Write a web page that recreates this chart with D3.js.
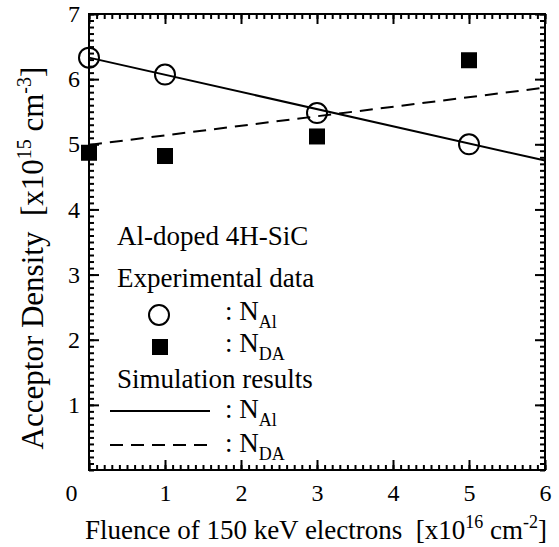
<!DOCTYPE html>
<html lang="en">
<head>
    <meta charset="UTF-8">
    <title>Acceptor Density</title>
    <style>
        body { margin: 0; background: #fff; }
    </style>
</head>
<body>
<div id="chart"></div>
<script src="https://cdn.jsdelivr.net/npm/d3@7"></script>
<script>
    // data
    const fluence = [0, 1, 3, 5];
    const nAlExp = [6.33, 6.07, 5.48, 5.00];
    const nDaExp = [4.87, 4.82, 5.12, 6.29];
    const simX = [0, 6];
    const nAlSim = [6.33, 4.75];
    const nDaSim = [4.99, 5.87];
    const xTicks = [0, 1, 2, 3, 4, 5, 6];
    const yTicks = [1, 2, 3, 4, 5, 6, 7];

    const FONT = "'Liberation Serif', 'Times New Roman', Times, serif";
    const W = 559, H = 547;
    const margin = {top: 14, right: 14, bottom: 77, left: 89};
    const width = W - margin.left - margin.right,
        height = H - margin.top - margin.bottom;

    let svg = d3.select("#chart")
        .append("svg")
        .attr("width", W)
        .attr("height", H)
        .attr("font-family", FONT);

    let g = svg.append("g")
        .attr("transform", `translate(${margin.left}, ${margin.top})`);

    var x = d3.scaleLinear().domain([0, 6]).range([0, width]);
    var y = d3.scaleLinear().domain([0, 7]).range([height, 0]);

    const xMinor = d3.range(0, 61).map(d => d / 10);
    const yMinor = d3.range(0, 71).map(d => d / 10);

    function styleAxis(sel) {
        sel.attr("font-family", FONT).attr("font-size", 24);
        sel.select(".domain").remove();
        sel.selectAll(".tick line").attr("stroke", "#000").attr("stroke-width", 2);
        sel.selectAll(".tick text").attr("fill", "#000");
    }

    // minor ticks, all four sides
    g.append("g").attr("transform", `translate(0, ${height})`)
        .call(d3.axisBottom(x).tickValues(xMinor).tickSize(-5).tickFormat("")).call(styleAxis);
    g.append("g")
        .call(d3.axisTop(x).tickValues(xMinor).tickSize(-5).tickFormat("")).call(styleAxis);
    g.append("g")
        .call(d3.axisLeft(y).tickValues(yMinor).tickSize(-5).tickFormat("")).call(styleAxis);
    g.append("g").attr("transform", `translate(${width}, 0)`)
        .call(d3.axisRight(y).tickValues(yMinor).tickSize(-5).tickFormat("")).call(styleAxis);

    // major ticks
    let xAxis = g.append("g").attr("transform", `translate(0, ${height})`)
        .call(d3.axisBottom(x).tickValues(xTicks).tickSize(-10).tickPadding(14).tickFormat(d3.format("d")))
        .call(styleAxis);
    xAxis.selectAll(".tick text").attr("dx", d => d === 0 ? -18 : 0);
    g.append("g")
        .call(d3.axisTop(x).tickValues(xTicks).tickSize(-10).tickFormat("")).call(styleAxis);
    g.append("g")
        .call(d3.axisLeft(y).tickValues(yTicks).tickSize(-10).tickPadding(9).tickFormat(d3.format("d")))
        .call(styleAxis);
    g.append("g").attr("transform", `translate(${width}, 0)`)
        .call(d3.axisRight(y).tickValues(yTicks).tickSize(-10).tickFormat("")).call(styleAxis);

    // frame
    g.append("rect")
        .attr("width", width).attr("height", height)
        .attr("fill", "none").attr("stroke", "#000").attr("stroke-width", 2);

    // simulation lines
    const line = d3.line().x(d => x(d[0])).y(d => y(d[1]));
    g.append("path")
        .datum(d3.zip(simX, nAlSim))
        .attr("d", line)
        .attr("fill", "none").attr("stroke", "#000").attr("stroke-width", 2);
    g.append("path")
        .datum(d3.zip(simX, nDaSim))
        .attr("d", line)
        .attr("fill", "none").attr("stroke", "#000").attr("stroke-width", 2)
        .attr("stroke-dasharray", "13,8");

    // experimental points
    g.append("g")
        .selectAll("circle")
        .data(d3.zip(fluence, nAlExp))
        .join("circle")
        .attr("cx", d => x(d[0]))
        .attr("cy", d => y(d[1]))
        .attr("r", 10)
        .attr("fill", "none").attr("stroke", "#000").attr("stroke-width", 2);
    g.append("g")
        .selectAll("rect")
        .data(d3.zip(fluence, nDaExp))
        .join("rect")
        .attr("x", d => x(d[0]) - 8)
        .attr("y", d => y(d[1]) - 8)
        .attr("width", 16).attr("height", 16)
        .attr("fill", "#000");

    // legend
    const lg = svg.append("g").attr("font-size", 27);
    lg.append("text").attr("x", 117).attr("y", 245).text("Al-doped 4H-SiC");
    lg.append("text").attr("x", 117).attr("y", 287).text("Experimental data");
    lg.append("circle").attr("cx", 159).attr("cy", 315).attr("r", 10)
        .attr("fill", "none").attr("stroke", "#000").attr("stroke-width", 2);
    lg.append("rect").attr("x", 152).attr("y", 339).attr("width", 16).attr("height", 16).attr("fill", "#000");
    lg.append("text").attr("x", 117).attr("y", 388).text("Simulation results");
    lg.append("line").attr("x1", 110).attr("x2", 210).attr("y1", 411).attr("y2", 411)
        .attr("stroke", "#000").attr("stroke-width", 2);
    lg.append("line").attr("x1", 110).attr("x2", 210).attr("y1", 445).attr("y2", 445)
        .attr("stroke", "#000").attr("stroke-width", 2).attr("stroke-dasharray", "13,8");

    function subLabel(yy, sub) {
        let t = lg.append("text").attr("x", 225).attr("y", yy);
        t.append("tspan").text(": N");
        t.append("tspan").attr("font-size", 18).attr("dy", 8).text(sub);
    }
    subLabel(320, "Al");
    subLabel(352, "DA");
    subLabel(418, "Al");
    subLabel(452, "DA");

    // axis titles
    let xt = svg.append("text")
        .attr("x", 316).attr("y", 539)
        .attr("text-anchor", "middle").attr("font-size", 27);
    xt.append("tspan").text("Fluence of 150 keV electrons\u00a0\u00a0[x10");
    xt.append("tspan").attr("font-size", 18).attr("dy", -11).text("16");
    xt.append("tspan").attr("dy", 11).text(" cm");
    xt.append("tspan").attr("font-size", 18).attr("dy", -11).text("-2");
    xt.append("tspan").attr("dy", 11).text("]");

    let yt = svg.append("text")
        .attr("transform", "translate(43, 258) rotate(-90)")
        .attr("text-anchor", "middle").attr("font-size", 31);
    yt.append("tspan").text("Acceptor Density\u00a0\u00a0[x10");
    yt.append("tspan").attr("font-size", 20).attr("dy", -12).text("15");
    yt.append("tspan").attr("dy", 12).text(" cm");
    yt.append("tspan").attr("font-size", 20).attr("dy", -12).text("-3");
    yt.append("tspan").attr("dy", 12).text("]");
</script>
</body>
</html>
